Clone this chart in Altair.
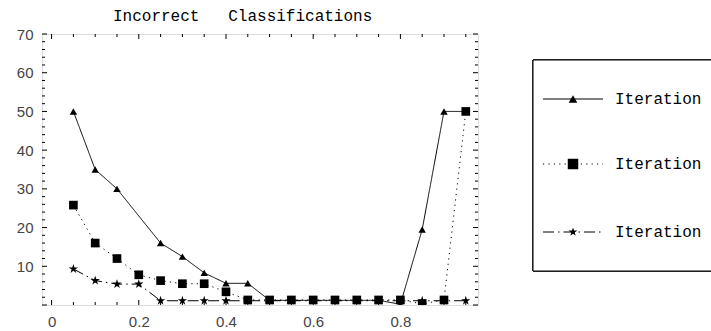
import altair as alt
import pandas as pd
import math

# ---- data ----
thresholds = [0.05, 0.10, 0.15, 0.20, 0.25, 0.30, 0.35, 0.40, 0.45, 0.50,
              0.55, 0.60, 0.65, 0.70, 0.75, 0.80, 0.85, 0.90, 0.95]
iteration_a = [50, 35, 30, None, 16, 12.5, 8.3, 5.6, 5.6, 1.2,
               1.2, 1.2, 1.2, 1.2, 1.2, 0.2, 19.5, 50, 50]
iteration_b = [25.8, 16, 12, 7.8, 6.3, 5.5, 5.5, 3.4, 1.3, 1.3,
               1.3, 1.3, 1.3, 1.3, 1.3, 1.3, 0.3, 1.3, 50]
iteration_c = [9.3, 6.3, 5.4, 5.4, 1.1, 1.1, 1.1, 1.1, 1.1, 1.1,
               1.1, 1.1, 1.1, 1.1, 1.1, 1.1, 1.1, 1.1, 1.1]
series_names = ["Iteration 1", "Iteration 2", "Iteration 3"]
legend_texts = ["Iteration", "Iteration", "Iteration"]  # as visible in the reference
x_label_values = [0, 0.2, 0.4, 0.6, 0.8]
y_label_values = [10, 20, 30, 40, 50, 60, 70]
x_major_ticks = [0, 0.2, 0.4, 0.6, 0.8]
x_minor_ticks = [0.05, 0.1, 0.15, 0.25, 0.3, 0.35, 0.45, 0.5, 0.55, 0.65,
                 0.7, 0.75, 0.85, 0.9, 0.95]
y_major_ticks = [0, 10, 20, 30, 40, 50, 60, 70]
y_minor_ticks = [2, 4, 6, 8, 12, 14, 16, 18, 22, 24, 26, 28, 32, 34, 36, 38,
                 42, 44, 46, 48, 52, 54, 56, 58, 62, 64, 66, 68]
title_text = "Incorrect\u00a0\u00a0\u00a0Classifications"

# ---- build tables ----
rows = []
for name, vals in zip(series_names, [iteration_a, iteration_b, iteration_c]):
    for t, v in zip(thresholds, vals):
        if v is not None:
            rows.append({"threshold": t, "errors": v, "series": name})
df = pd.DataFrame(rows)

W, H = 436, 271
MONO = "Liberation Mono, Courier New, monospace"
SANS = "Liberation Sans, Arial, sans-serif"

# five-pointed star as an SVG path in the unit box
pts = []
for k in range(10):
    ang = math.radians(-90 + 36 * k)
    r = 1.0 if k % 2 == 0 else 0.382
    pts.append(f"{r * math.cos(ang):.4f},{r * math.sin(ang):.4f}")
STAR = "M" + "L".join(pts) + "Z"

xscale = alt.Scale(domain=[-0.022, 0.978], nice=False, zero=False)
yscale = alt.Scale(domain=[0, 70], nice=False)

dashes = [[1, 0], [1.2, 4.2], [11, 4, 1.5, 4]]
shapes = ["triangle-up", "square", STAR]
dash_scale = alt.Scale(domain=series_names, range=dashes)
shape_scale = alt.Scale(domain=series_names, range=shapes)
size_scale = alt.Scale(domain=series_names, range=[55, 95, 75])

base = alt.Chart(df)

lines = base.mark_line(color="black", strokeWidth=1, clip=True).encode(
    x=alt.X("threshold:Q", scale=xscale,
            axis=alt.Axis(values=x_label_values, title=None, domain=False, ticks=False,
                          grid=False, labelFont=SANS, labelFontSize=15, labelColor="#444",
                          labelPadding=9, orient="bottom",
                          labelExpr="datum.value == 0 ? '0' : format(datum.value, '.1f')")),
    y=alt.Y("errors:Q", scale=yscale,
            axis=alt.Axis(values=y_label_values, title=None, domain=False, ticks=False,
                          grid=False, labelFont=SANS, labelFontSize=15, labelColor="#444",
                          labelPadding=9, orient="left")),
    strokeDash=alt.StrokeDash("series:N", scale=dash_scale, legend=None),
    detail="series:N",
)

points = base.mark_point(filled=True, color="black", opacity=1, clip=True).encode(
    x=alt.X("threshold:Q", scale=xscale),
    y=alt.Y("errors:Q", scale=yscale),
    shape=alt.Shape("series:N", scale=shape_scale, legend=None),
    size=alt.Size("series:N", scale=size_scale, legend=None),
)

# inward frame ticks
tick_layers = []
for vals, ln in [(x_major_ticks, 5), (x_minor_ticks, 3)]:
    tdf = pd.DataFrame({"v": vals})
    tick_layers.append(alt.Chart(tdf).mark_rule(color="black", strokeWidth=1).encode(
        x=alt.X("v:Q", scale=xscale), y=alt.value(H), y2=alt.value(H - ln)))
    tick_layers.append(alt.Chart(tdf).mark_rule(color="black", strokeWidth=1).encode(
        x=alt.X("v:Q", scale=xscale), y=alt.value(0), y2=alt.value(ln)))
for vals, ln in [(y_major_ticks, 5), (y_minor_ticks, 3)]:
    tdf = pd.DataFrame({"v": vals})
    tick_layers.append(alt.Chart(tdf).mark_rule(color="black", strokeWidth=1).encode(
        y=alt.Y("v:Q", scale=yscale), x=alt.value(0), x2=alt.value(ln)))
    tick_layers.append(alt.Chart(tdf).mark_rule(color="black", strokeWidth=1).encode(
        y=alt.Y("v:Q", scale=yscale), x=alt.value(W), x2=alt.value(W - ln)))

# title as text placed like the reference
title_layer = alt.Chart(pd.DataFrame({"t": [title_text]})).mark_text(
    align="left", baseline="alphabetic", font=MONO, fontSize=16, color="black").encode(
    x=alt.value(71), y=alt.value(-13), text="t:N")

# custom legend (box runs off the right edge like the reference)
leg_df = pd.DataFrame({"series": series_names})
legend_layers = [
    alt.Chart(leg_df).mark_rect(fill="white", stroke="black", strokeWidth=1).encode(
        x=alt.value(491), x2=alt.value(720), y=alt.value(26), y2=alt.value(237))
]
row_y = [65, 130, 198]
leg_sizes = [75, 110, 85]
for name, txt, yy, dsh, shp, sz in zip(series_names, legend_texts, row_y, dashes, shapes, leg_sizes):
    one = pd.DataFrame({"series": [name], "label": [txt]})
    legend_layers.append(alt.Chart(one).mark_rule(color="black", strokeWidth=1, strokeDash=dsh).encode(
        x=alt.value(501), x2=alt.value(561), y=alt.value(yy)))
    legend_layers.append(alt.Chart(one).mark_point(shape=shp, filled=True, color="black",
                                                   opacity=1, size=sz).encode(
        x=alt.value(531), y=alt.value(yy)))
    legend_layers.append(alt.Chart(one).mark_text(align="left", baseline="middle", font=MONO,
                                                  fontSize=16, color="black").encode(
        x=alt.value(573), y=alt.value(yy), text="label:N"))

chart = alt.layer(lines, points, *tick_layers, title_layer, *legend_layers).properties(
    width=W, height=H,
    padding={"left": 42, "top": 34, "right": 233, "bottom": 26},
    autosize=alt.AutoSizeParams(type="none"),
).configure_view(stroke="black", strokeWidth=1).configure(background="white")

chart.save("out.html", embed_options={"renderer": "svg", "actions": False})
